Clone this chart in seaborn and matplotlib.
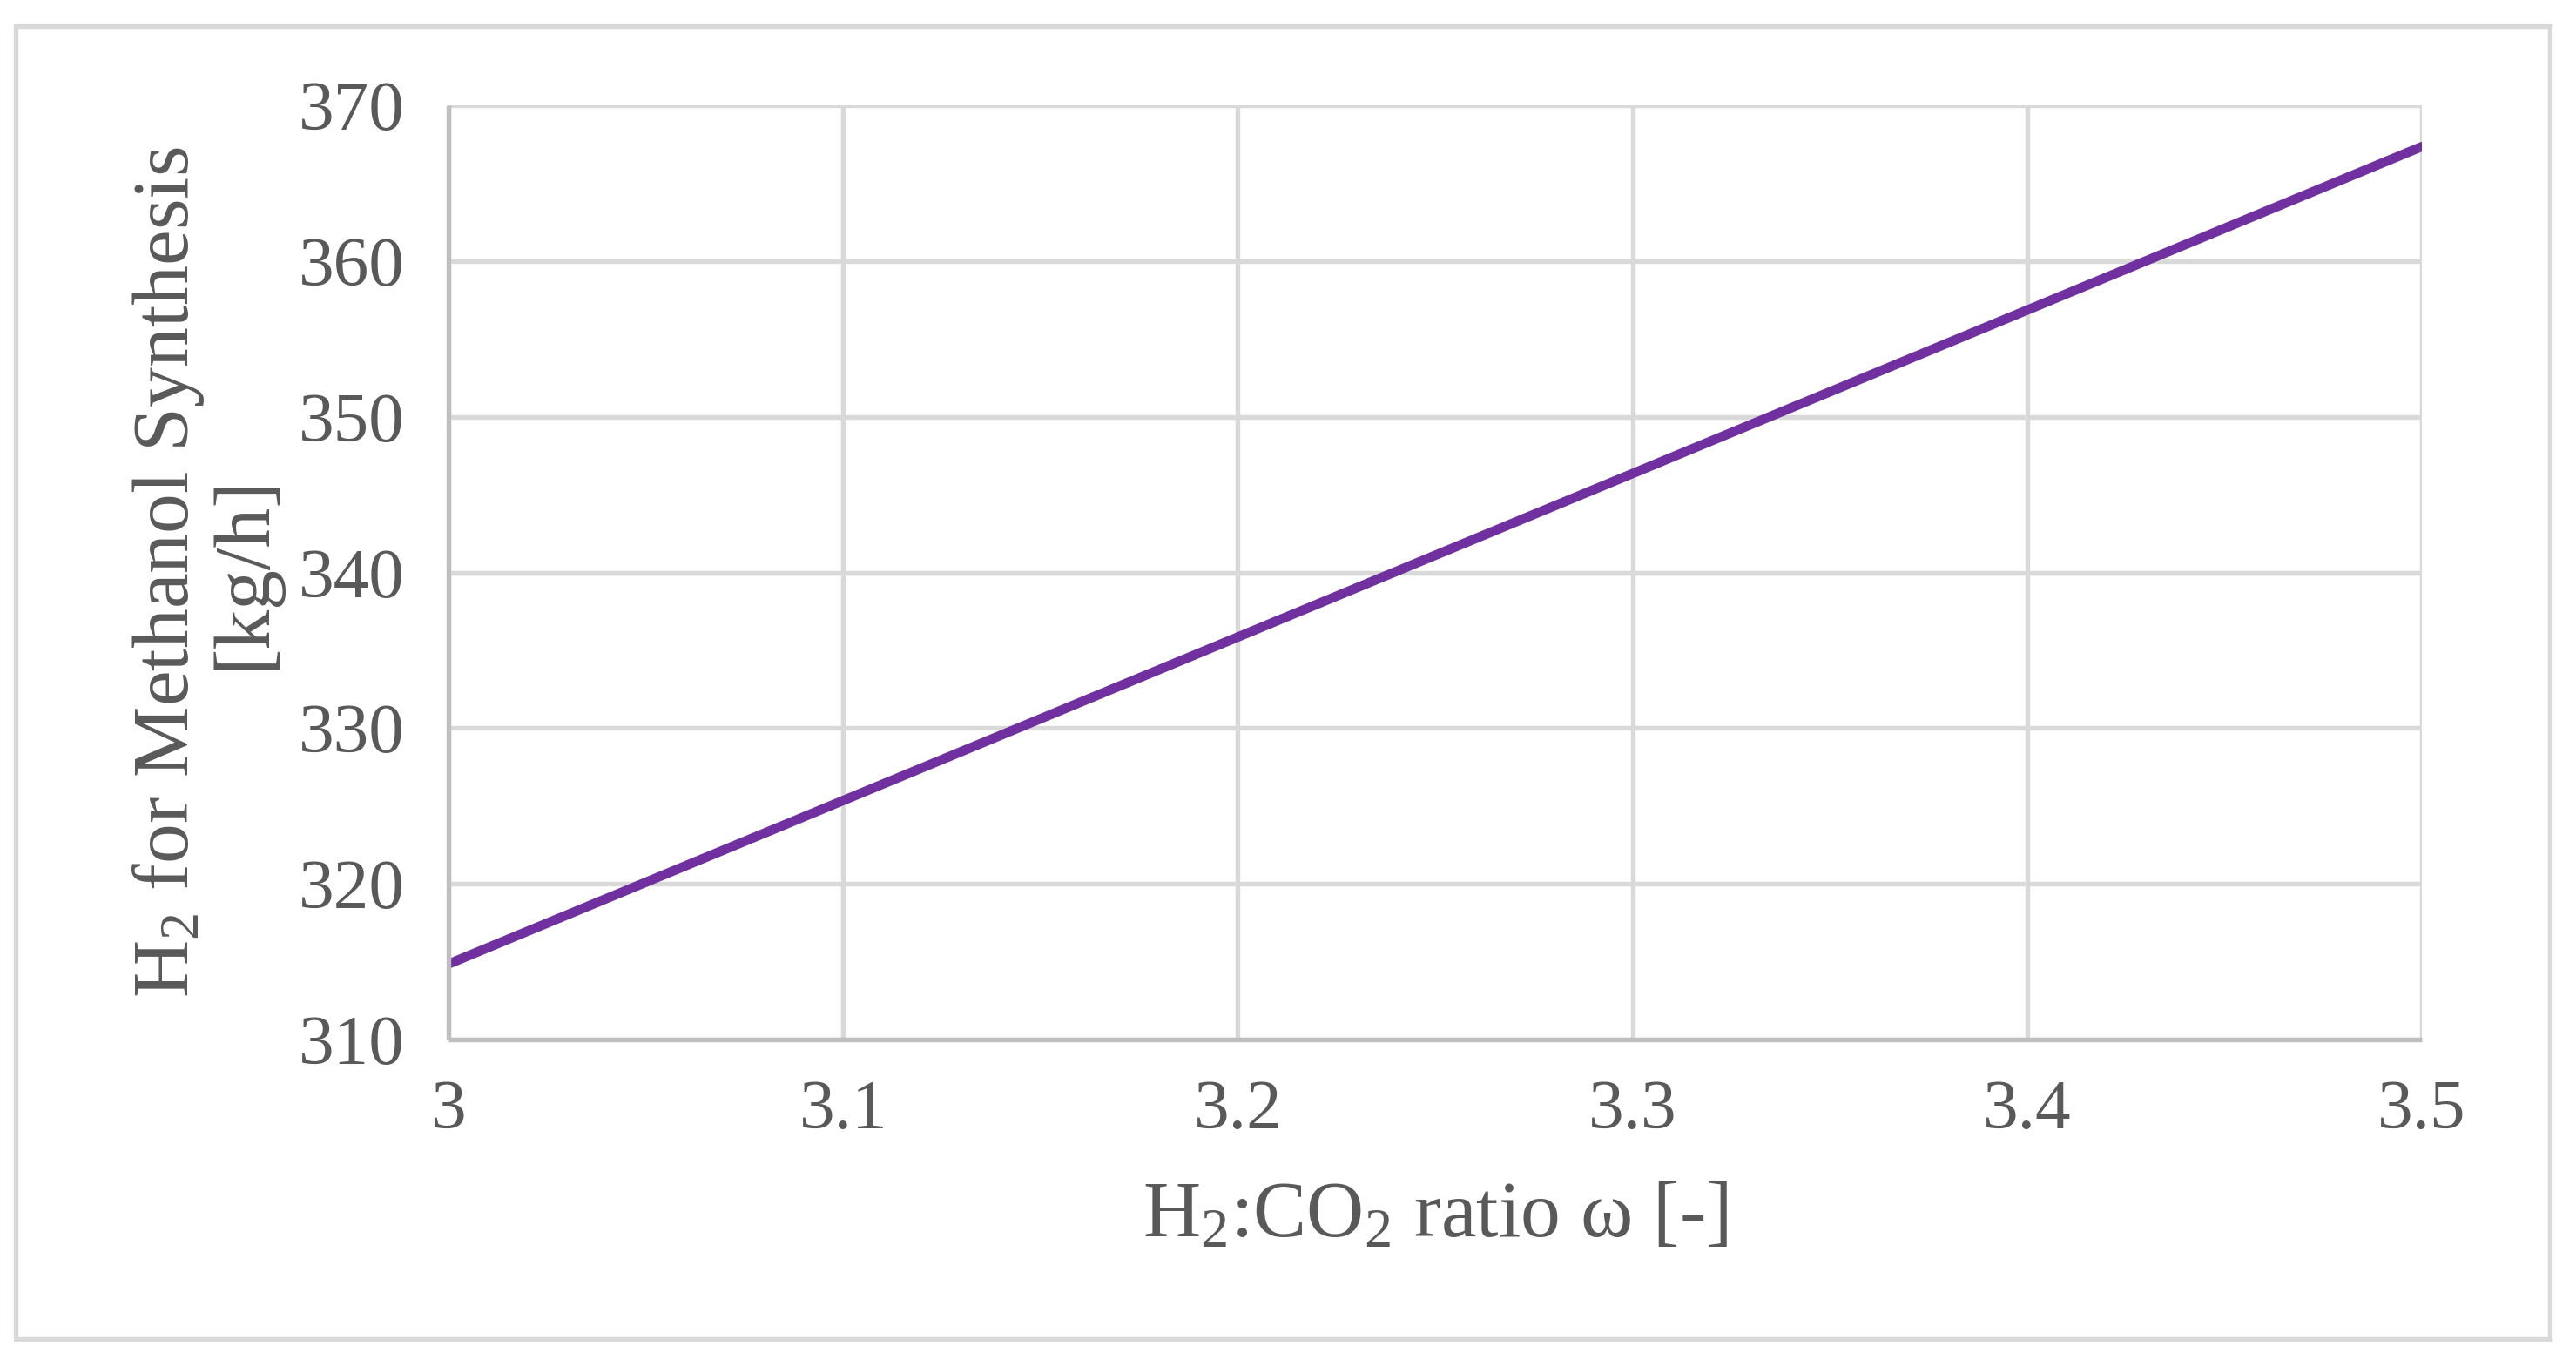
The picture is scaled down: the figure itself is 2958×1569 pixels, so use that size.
import numpy as np
import pandas as pd
import matplotlib
matplotlib.use("Agg")
import matplotlib.pyplot as plt
import seaborn as sns
from matplotlib.patches import Rectangle

# data
ratio = [3.0, 3.1, 3.2, 3.3, 3.4, 3.5]
h2_flow = [314.85, 325.35, 335.85, 346.35, 356.85, 367.35]
x_ticks = [3.0, 3.1, 3.2, 3.3, 3.4, 3.5]
x_tick_labels = ["3", "3.1", "3.2", "3.3", "3.4", "3.5"]
y_ticks = [310, 320, 330, 340, 350, 360, 370]

sns.set_theme(style="white")
plt.rcParams["font.family"] = ["Liberation Serif", "DejaVu Serif"]
plt.rcParams["mathtext.fontset"] = "custom"
plt.rcParams["mathtext.rm"] = "Liberation Serif"
plt.rcParams["mathtext.it"] = "Liberation Serif"

TEXT = "#595959"
GRID = "#D9D9D9"
AXIS = "#BFBFBF"
LINE = "#7030A0"

df = pd.DataFrame({"ratio": ratio, "h2": h2_flow})

fig = plt.figure(figsize=(2958 / 300, 1569 / 300), dpi=300)
fig.patch.set_facecolor("white")

# outer chart border (Excel chart area)
fig.patches.append(Rectangle((18 / 2958, 1 - 1538 / 1569), (2928 - 18) / 2958, (1538 - 30) / 1569,
                             transform=fig.transFigure, fill=False, edgecolor=GRID, linewidth=1.3))

ax = fig.add_axes([515 / 2958, 1 - 1194 / 1569, (2781 - 515) / 2958, (1194 - 121) / 1569])

sns.lineplot(data=df, x="ratio", y="h2", ax=ax, color=LINE, linewidth=2.6,
             solid_capstyle="round")

ax.set_xlim(3.0, 3.5)
ax.set_ylim(310, 370)
ax.set_xticks(x_ticks)
ax.set_xticklabels(x_tick_labels)
ax.set_yticks(y_ticks)

ax.grid(True, color=GRID, linewidth=1.3, solid_capstyle="butt")
ax.set_axisbelow(True)
for side in ["top", "right"]:
    ax.spines[side].set_visible(False)
for side in ["left", "bottom"]:
    ax.spines[side].set_color(AXIS)
    ax.spines[side].set_linewidth(1.3)
    ax.spines[side].set_capstyle("butt")

ax.tick_params(axis="both", length=0, width=0, labelsize=19.5, labelcolor=TEXT)
ax.tick_params(axis="x", pad=11)
ax.tick_params(axis="y", pad=12)

ax.set_xlabel(r"H$_\mathrm{2}$:CO$_\mathrm{2}$ ratio ω [-]", fontsize=22, color=TEXT)
ax.set_ylabel("H$_\\mathrm{2}$ for Methanol Synthesis\n[kg/h]", fontsize=22, color=TEXT,
              linespacing=1.05)
ax.yaxis.label.set_verticalalignment("center")
ax.xaxis.label.set_verticalalignment("center")
ax.yaxis.set_label_coords(-0.123, 0.5)
ax.xaxis.set_label_coords(0.5, -0.19)

fig.savefig("out.png", dpi=300)
